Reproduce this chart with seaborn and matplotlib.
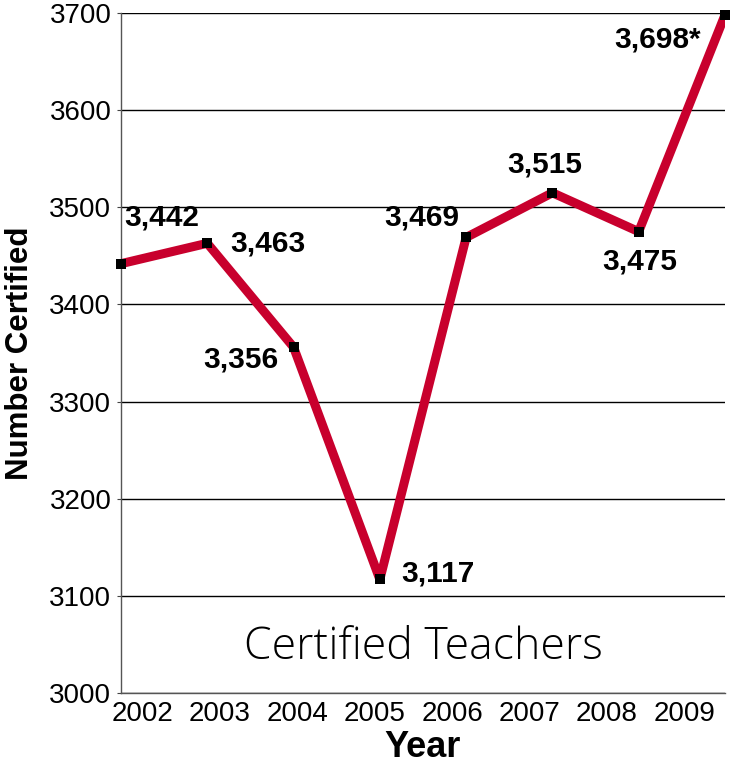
import numpy as np
import pandas as pd
import seaborn as sns
import matplotlib.pyplot as plt
from matplotlib import font_manager

# Data
years = [2002, 2003, 2004, 2005, 2006, 2007, 2008, 2009]
certified = [3442, 3463, 3356, 3117, 3469, 3515, 3475, 3698]
value_labels = ["3,442", "3,463", "3,356", "3,117", "3,469", "3,515", "3,475", "3,698*"]
year_labels = ["2002", "2003", "2004", "2005", "2006", "2007", "2008", "2009"]
y_ticks = [3000, 3100, 3200, 3300, 3400, 3500, 3600, 3700]

df = pd.DataFrame({"Year": years, "Number Certified": certified})

sns.set_style("white")
names = {f.name for f in font_manager.fontManager.ttflist}
narrow = "Liberation Sans Narrow" if "Liberation Sans Narrow" in names else "Liberation Sans"
plt.rcParams["font.family"] = [narrow, "DejaVu Sans"]
for k in ["text.color", "axes.labelcolor", "xtick.color", "ytick.color"]:
    plt.rcParams[k] = "black"

fig = plt.figure(figsize=(7.36, 7.71), dpi=100)
ax = fig.add_axes([0.1644, 0.1012, 0.8206, 0.8818])

red = "#c8002d"
sns.lineplot(data=df, x="Year", y="Number Certified", color=red, linewidth=6.5,
             ax=ax, zorder=3, solid_joinstyle="round", solid_capstyle="butt")
ax.scatter(df["Year"], df["Number Certified"], marker="s", s=45, color="black",
           zorder=4, linewidths=0, clip_on=False)

# label offsets (pixels) for each point
offsets = [(41, 46), (61, 0), (-53, -12), (58, 6), (-44, 20), (-8, 28), (1, -30), (-67, -24)]
for x, y, lab, (dx, dy) in zip(years, certified, value_labels, offsets):
    ax.annotate(lab, (x, y), xytext=(dx, dy), textcoords="offset pixels",
                ha="center", va="center", fontsize=21.5, fontweight="bold", zorder=5)

ax.set_xlim(2002, 2009)
ax.set_ylim(3000, 3700)
ax.set_yticks(y_ticks)
ax.set_yticklabels([str(t) for t in y_ticks], fontsize=20)
# year labels sit in equal bins across the bottom, not under the points
ax.set_xticks(np.linspace(2002.25, 2008.53, len(year_labels)))
ax.set_xticklabels(year_labels, fontsize=20)
ax.tick_params(axis="x", length=0, pad=6)
ax.tick_params(axis="y", length=3, width=0.8, color="#444", pad=4, left=True)

ax.yaxis.grid(True, color="black", linewidth=1)
ax.xaxis.grid(False)
for s in ["top", "right"]:
    ax.spines[s].set_visible(False)
for s in ["left", "bottom"]:
    ax.spines[s].set_color("#555")
    ax.spines[s].set_linewidth(1)

ax.set_xlabel("Year", fontsize=26, fontweight="bold", labelpad=2)
ax.set_ylabel("Number Certified", fontsize=22.5, fontweight="bold", labelpad=10)

ax.text(0.5, 0.066, "Certified Teachers", transform=ax.transAxes, ha="center",
        va="center", fontsize=32, fontweight="light", family=["Open Sans", "DejaVu Sans"])

fig.savefig("out.png", dpi=100)
